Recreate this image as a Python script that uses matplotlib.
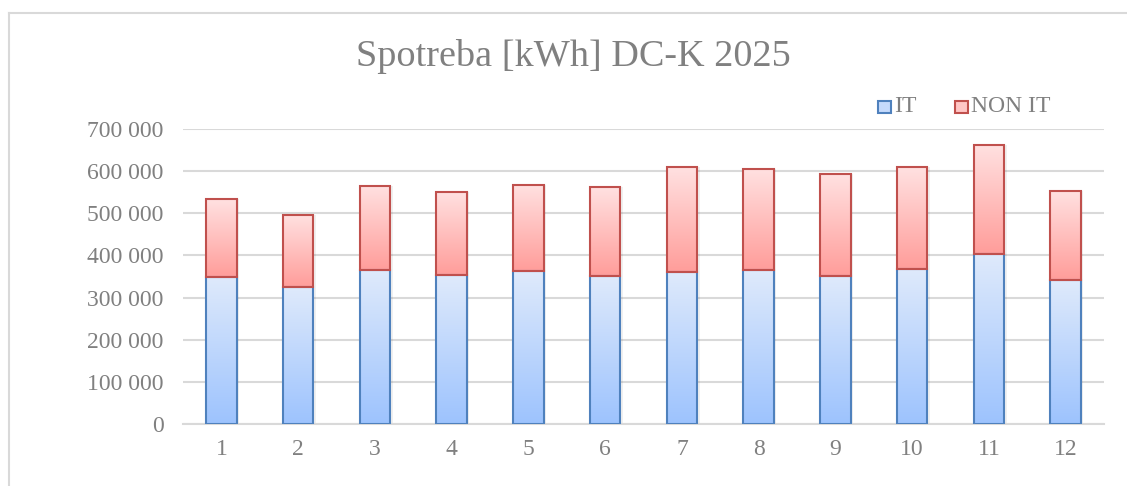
import numpy as np
import matplotlib
matplotlib.use("Agg")
import matplotlib.pyplot as plt
from matplotlib.colors import LinearSegmentedColormap
from matplotlib.patches import Rectangle
from matplotlib.lines import Line2D
from matplotlib.ticker import FuncFormatter

plt.rcParams['font.family'] = ['Liberation Serif', 'DejaVu Serif']

months = [1, 2, 3, 4, 5, 6, 7, 8, 9, 10, 11, 12]
it_vals = [349500, 324400, 364700, 352800, 363000, 352000,
           361400, 364700, 352000, 367800, 404100, 340900]
non_it_vals = [184400, 172200, 200800, 198400, 204100, 209600,
               247700, 241100, 240400, 241300, 258700, 211200]
series_names = ['IT', 'NON IT']
title = 'Spotreba [kWh] DC-K 2025'

text_col = '#808080'
grid_col = '#d9d9d9'
it_edge = '#4f81bd'
non_edge = '#c0504d'
it_cmap = LinearSegmentedColormap.from_list('it', ['#9dc3fe', '#dfeafb'])
non_cmap = LinearSegmentedColormap.from_list('non', ['#ff9d9a', '#ffe1e1'])

W, H = 1127, 486
fig = plt.figure(figsize=(W / 100, H / 100), dpi=100)
ax = fig.add_axes([183 / W, 1 - 424 / H, 921 / W, 295 / H])

grad = np.linspace(0, 1, 256).reshape(-1, 1)
bar_w = 0.40


def gradient_bars(x, heights, bottoms, cmap, edge):
    bars = ax.bar(x, heights, bar_w, bottom=bottoms, facecolor='none',
                  edgecolor=edge, linewidth=1.5, zorder=4)
    for b in bars:
        x0, y0 = b.get_x(), b.get_y()
        # soft shadow to the right
        ax.add_patch(Rectangle((x0 + 0.03, y0), b.get_width(), b.get_height(),
                               facecolor='#000000', alpha=0.06, linewidth=0, zorder=2))
        im = ax.imshow(grad, cmap=cmap, origin='lower', aspect='auto',
                       extent=[x0, x0 + b.get_width(), y0, y0 + b.get_height()],
                       zorder=3)
        im.set_clip_path(b)
    return bars


gradient_bars(months, it_vals, 0, it_cmap, it_edge)
gradient_bars(months, non_it_vals, it_vals, non_cmap, non_edge)

ax.set_xlim(0.5, 12.5)
ax.set_ylim(0, 700000)
ax.set_yticks(np.arange(0, 700001, 100000))
ax.set_xticks(months)
ax.yaxis.set_major_formatter(FuncFormatter(lambda v, p: f'{int(v):,}'.replace(',', ' ')))
ax.grid(axis='y', color=grid_col, linewidth=1.5, zorder=0)
ax.set_axisbelow(True)
for s in ['top', 'right', 'left']:
    ax.spines[s].set_visible(False)
ax.spines['bottom'].set_color(grid_col)
ax.spines['bottom'].set_linewidth(1.5)
ax.tick_params(axis='y', length=0, pad=14, labelsize=17, labelcolor=text_col)
ax.tick_params(axis='x', length=0, pad=11, labelsize=17, labelcolor=text_col)
ax.set_facecolor('none')

fig.text(573 / W, 1 - 57 / H, title, ha='center', va='center',
         fontsize=27.5, color=text_col)

# legend drawn at top right
leg = [(878, series_names[0], it_cmap(0.6), it_edge),
       (955, series_names[1], non_cmap(0.6), non_edge)]
for lx, name, fc, ec in leg:
    fig.add_artist(Rectangle((lx / W, 1 - 113 / H), 13 / W, 12 / H,
                             transform=fig.transFigure, facecolor=fc,
                             edgecolor=ec, linewidth=1.5))
    fig.text((lx + 16) / W, 1 - 107 / H, name, ha='left', va='center',
             fontsize=17, color=text_col)

# outer chart frame
fig.add_artist(Line2D([9 / W, 1.0], [1 - 13 / H, 1 - 13 / H],
                      transform=fig.transFigure, color=grid_col, linewidth=1.5))
fig.add_artist(Line2D([9 / W, 9 / W], [1 - 13 / H, 0],
                      transform=fig.transFigure, color=grid_col, linewidth=1.5))

fig.savefig('out.png', dpi=100)
